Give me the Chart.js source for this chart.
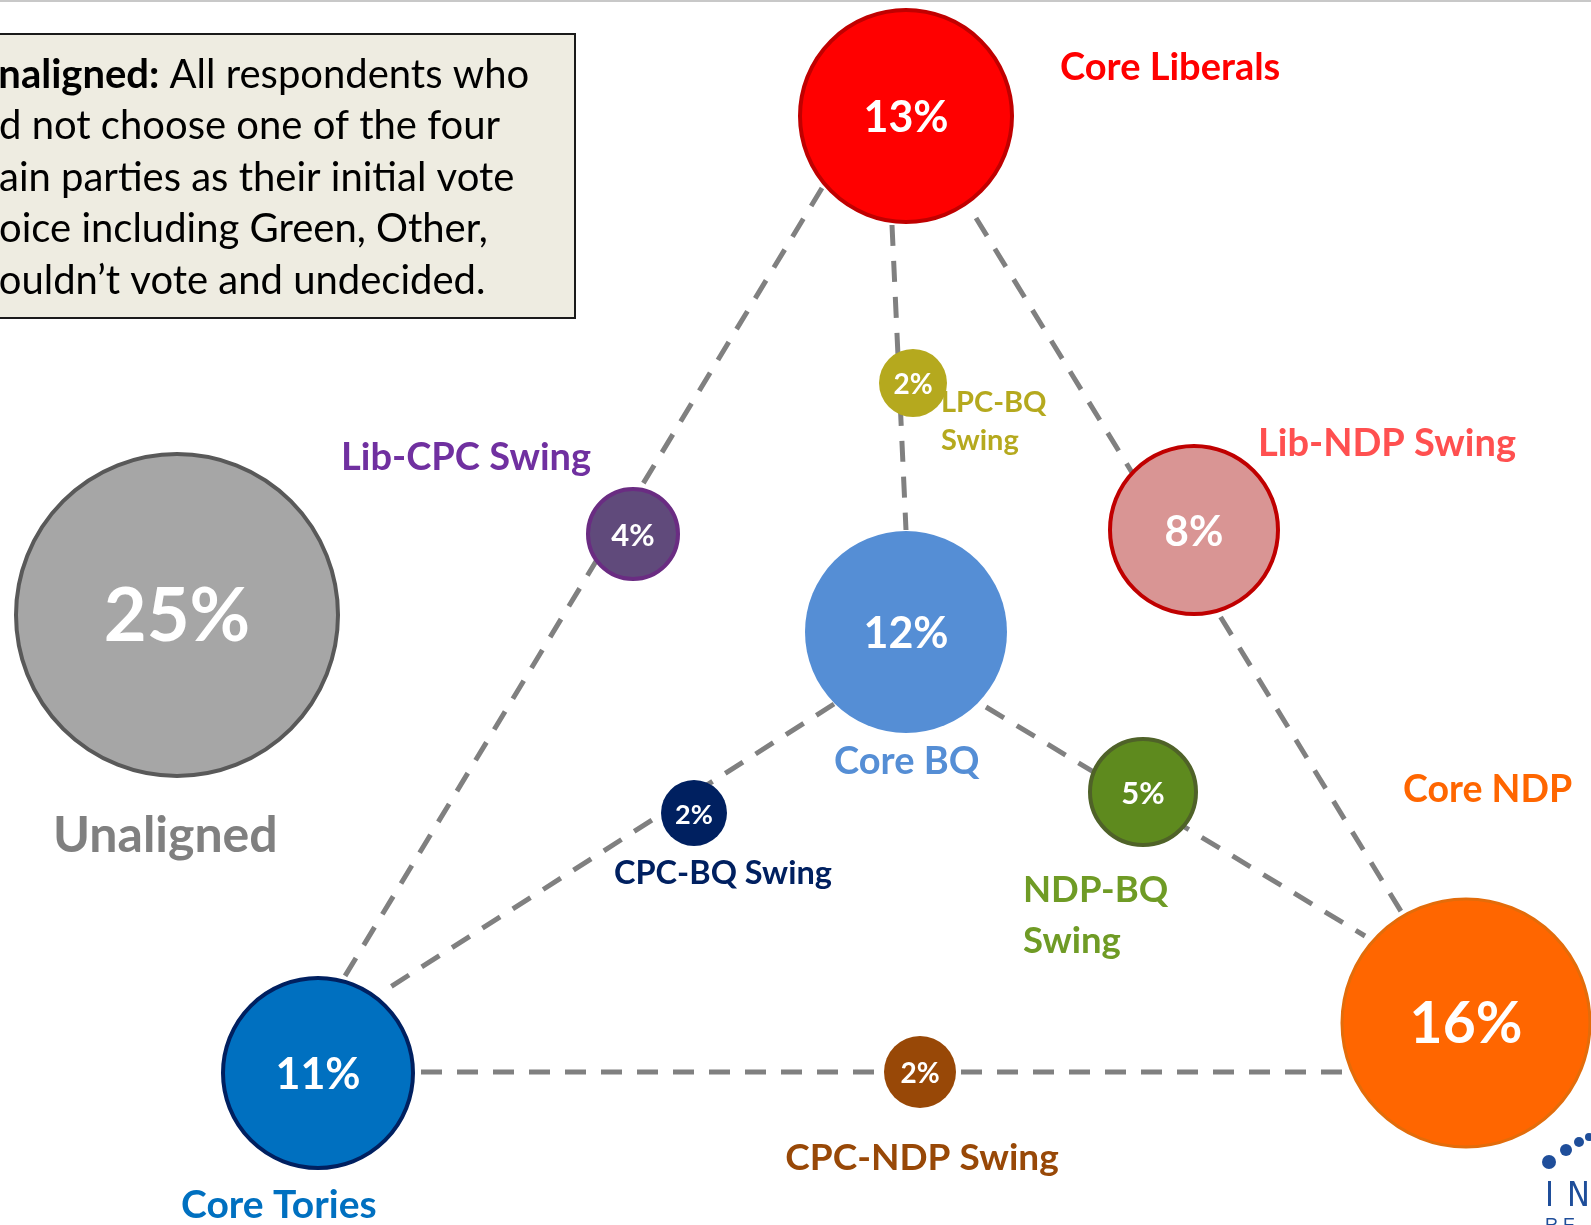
<!DOCTYPE html>
<html>
<head>
<meta charset="utf-8">
<script src="https://cdn.jsdelivr.net/npm/chart.js@4.4.0/dist/chart.umd.min.js"></script>
<style>
html, body { margin: 0; padding: 0; background: #fff; overflow: hidden; }
#wrap { width: 1591px; height: 1225px; position: relative; }
</style>
</head>
<body>
<div id="wrap"><canvas id="myChart" width="1591" height="1225"></canvas></div>
<script>
// voter segments and their share of the electorate (%)
const groups = ['Core Liberals', 'Core BQ', 'Core Tories', 'Core NDP', 'Unaligned',
                'Lib-NDP Swing', 'Lib-CPC Swing', 'LPC-BQ Swing', 'CPC-BQ Swing', 'NDP-BQ Swing', 'CPC-NDP Swing'];
const shares = [13, 12, 11, 16, 25, 8, 4, 2, 2, 5, 2];

// where each bubble sits on the page (pixels) and how big it is
const posX = [906, 906, 318, 1466, 177, 1194, 633, 913, 694, 1143, 920];
const posY = [116, 632, 1073, 1023, 615, 530, 534, 383, 813, 792, 1072];
const radius = [106, 101, 95, 124, 161, 84, 45, 34, 33, 53, 36];

// bubble colours
const fills = ['#FF0000', '#558ED5', '#0070C0', '#FF6600', '#A6A6A6',
               '#D99594', '#604A7B', '#B5A91E', '#002060', '#5E8A1E', '#984807'];
const borders = ['#C00000', '#558ED5', '#002060', '#E36C0A', '#595959',
                 '#C00000', '#6A2C82', '#B5A91E', '#002060', '#4F6228', '#984807'];
const borderW = [4, 0, 4, 3, 4, 4, 4, 0, 0, 4, 0];

// dashed links between segments: [x1, y1, x2, y2]
const links = [
    [822, 188, 345, 976],
    [892, 225, 906, 530],
    [976, 218, 1402, 913],
    [834, 704, 384, 991],
    [986, 707, 1365, 936],
    [421, 1072, 1350, 1072]
];

// name labels: lines, colour, size, x, y, align
const nameLabels = [
    { text: ['Core Liberals'], color: '#FF0000', size: 38, x: 1060, y: 68, align: 'left' },
    { text: ['Core BQ'], color: '#558ED5', size: 38, x: 834, y: 762, align: 'left' },
    { text: ['Core Tories'], color: '#0070C0', size: 39, x: 181, y: 1205, align: 'left' },
    { text: ['Core NDP'], color: '#FF6600', size: 37.5, x: 1403, y: 790, align: 'left' },
    { text: ['Unaligned'], color: '#808080', size: 50, x: 53, y: 836, align: 'left' },
    { text: ['Lib-NDP Swing'], color: '#FF5050', size: 38, x: 1258, y: 444, align: 'left' },
    { text: ['Lib-CPC Swing'], color: '#7030A0', size: 38, x: 341, y: 458, align: 'left' },
    { text: ['LPC-BQ', 'Swing'], color: '#B5A91E', size: 29, x: 941, y: 403, align: 'left', gap: 38 },
    { text: ['CPC-BQ Swing'], color: '#002060', size: 32.5, x: 614, y: 874, align: 'left' },
    { text: ['NDP-BQ', 'Swing'], color: '#6F9B25', size: 36.5, x: 1023, y: 890, align: 'left', gap: 51 },
    { text: ['CPC-NDP Swing'], color: '#984807', size: 37, x: 922, y: 1158, align: 'center' }
];
const pctSize = [43, 43, 43, 57, 74, 42, 31, 28, 27, 31, 28];

// note text: bold lead, rest, and how many leading letters fall off the left edge
const boxLines = [
    ['Unaligned:', ' All respondents who', 1],
    ['', 'did not choose one of the four', 2],
    ['', 'main parties as their initial vote', 1],
    ['', 'choice including Green, Other,', 2],
    ['', 'wouldn\u2019t vote and undecided.', 1]
];

const FONT = 'Lato, "Open Sans", sans-serif';

const labelsPlugin = {
    id: 'labels',
    beforeDatasetsDraw(chart) {
        const ctx = chart.ctx;
        // thin rule at the top of the slide
        ctx.save();
        ctx.fillStyle = '#C8C8C8';
        ctx.fillRect(0, 0, chart.width, 2);
        ctx.restore();
    },
    afterDatasetsDraw(chart) {
        const ctx = chart.ctx;
        const meta = chart.getDatasetMeta(0);
        ctx.save();
        ctx.textBaseline = 'middle';

        // percentages inside bubbles
        ctx.fillStyle = '#FFFFFF';
        ctx.textAlign = 'center';
        meta.data.forEach((pt, i) => {
            ctx.font = 'bold ' + pctSize[i] + 'px ' + FONT;
            ctx.fillText(shares[i] + '%', pt.x, pt.y + 2);
        });

        // segment names
        const xs = chart.scales.x, ys = chart.scales.y;
        nameLabels.forEach(l => {
            ctx.fillStyle = l.color;
            ctx.textAlign = l.align;
            ctx.font = 'bold ' + l.size + 'px ' + FONT;
            l.text.forEach((t, k) => {
                ctx.fillText(t, xs.getPixelForValue(l.x), ys.getPixelForValue(l.y) + k * (l.gap || 0));
            });
        });

        // note box
        ctx.fillStyle = '#EEECE1';
        ctx.strokeStyle = '#1A1A1A';
        ctx.lineWidth = 2;
        ctx.fillRect(-5, 34, 580, 284);
        ctx.strokeRect(-5, 34, 580, 284);
        ctx.fillStyle = '#000000';
        ctx.textAlign = 'left';
        const bold = 'bold 40px ' + FONT, reg = '40px ' + FONT;
        boxLines.forEach((ln, k) => {
            const y = 75 + k * 51.5;
            const first = ln[0] || ln[1];
            ctx.font = ln[0] ? bold : reg;
            let x = -ctx.measureText(first.slice(0, ln[2])).width - 1;
            if (ln[0]) {
                ctx.fillText(ln[0], x, y);
                x += ctx.measureText(ln[0]).width;
            }
            ctx.font = reg;
            ctx.fillText(ln[1], x, y);
        });

        // logo fragment, bottom right
        ctx.fillStyle = '#1F4E9A';
        [[1549, 1162, 7], [1566, 1150, 6], [1579, 1142, 5], [1589, 1137, 4]].forEach(d => {
            ctx.beginPath();
            ctx.arc(d[0], d[1], d[2], 0, Math.PI * 2);
            ctx.fill();
        });
        ctx.font = '34px "Liberation Sans Narrow", "DejaVu Sans Condensed", sans-serif';
        ctx.fillText('I', 1545, 1197);
        ctx.fillText('N', 1567, 1197);
        ctx.font = '18px "Liberation Sans Narrow", sans-serif';
        ctx.fillText('R E', 1545, 1226);
        ctx.restore();
    }
};

const linkSets = links.map(l => ({
    type: 'line',
    data: [{ x: l[0], y: l[1] }, { x: l[2], y: l[3] }],
    borderColor: '#808080',
    borderWidth: 5,
    borderDash: [21, 15],
    pointRadius: 0,
    fill: false,
    clip: false,
    order: 1
}));

const ctx = document.getElementById('myChart').getContext('2d');
const myChart = new Chart(ctx, {
    type: 'bubble',
    data: {
        labels: groups,
        datasets: [{
            label: 'Share',
            data: shares.map((s, i) => ({ x: posX[i], y: posY[i], r: radius[i], v: s })),
            backgroundColor: fills,
            borderColor: borders,
            borderWidth: borderW,
            clip: false,
            order: 0
        }].concat(linkSets)
    },
    options: {
        responsive: false,
        animation: false,
        devicePixelRatio: 1,
        events: [],
        layout: { padding: 0, autoPadding: false },
        scales: {
            x: { type: 'linear', min: 0, max: 1591, display: false },
            y: { type: 'linear', min: 0, max: 1225, reverse: true, display: false }
        },
        plugins: {
            legend: { display: false },
            tooltip: { enabled: false }
        }
    },
    plugins: [labelsPlugin]
});
</script>
</body>
</html>
